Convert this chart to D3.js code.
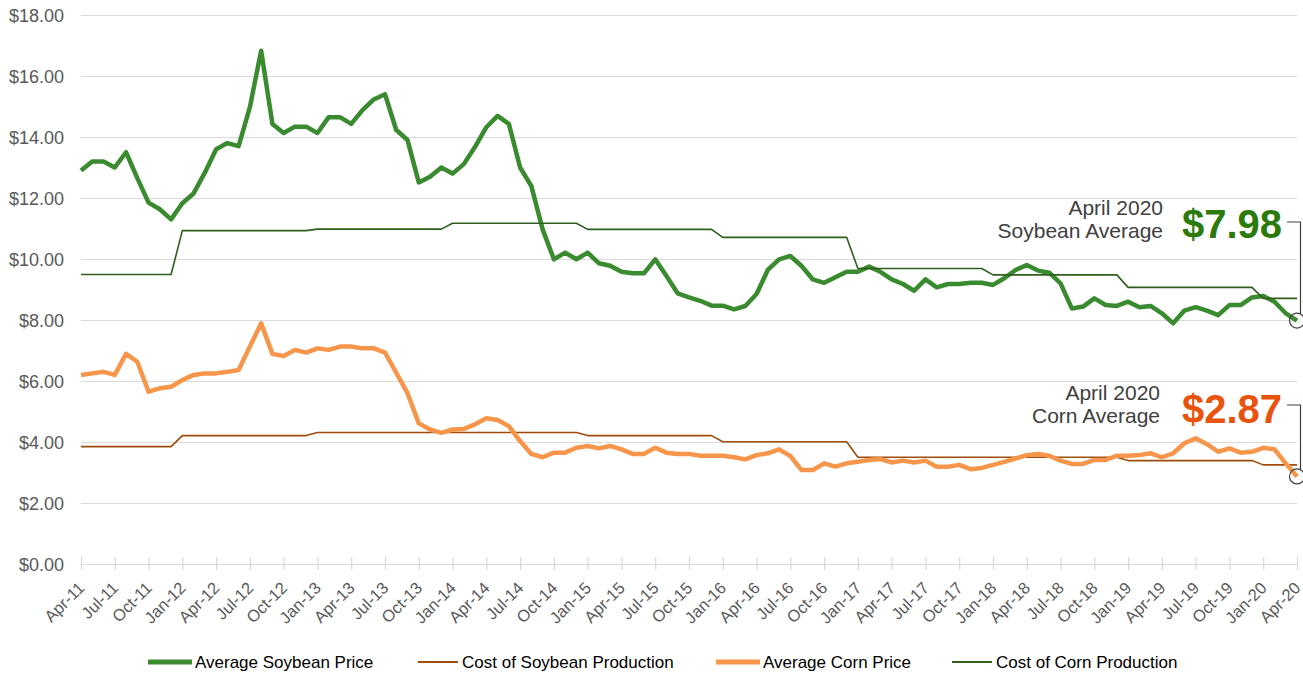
<!DOCTYPE html>
<html>
<head>
<meta charset="utf-8">
<script src="https://cdn.jsdelivr.net/npm/d3@7"></script>
<style>
  body { margin: 0; background: #fff; }
  text { font-family: "Liberation Sans", Arial, sans-serif; }
</style>
</head>
<body>
<script>
// Monthly averages, Apr-11 .. Apr-20
var soyPrice = [
  12.9, 13.2, 13.2, 13.0, 13.5, 12.65, 11.85, 11.63, 11.3,
  11.83, 12.15, 12.83, 13.6, 13.8, 13.7, 14.98, 16.83, 14.43, 14.13, 14.34, 14.34,
  14.13, 14.65, 14.65, 14.43, 14.88, 15.23, 15.4, 14.23, 13.9, 12.51, 12.7, 13.0,
  12.8, 13.11, 13.68, 14.32, 14.69, 14.43, 13.0, 12.39, 10.97, 9.99, 10.21, 9.99,
  10.21, 9.86, 9.78, 9.58, 9.53, 9.53, 9.99, 9.44, 8.87, 8.74, 8.63, 8.47,
  8.47, 8.35, 8.46, 8.85, 9.64, 9.99, 10.1, 9.77, 9.33, 9.22, 9.4, 9.58,
  9.58, 9.75, 9.58, 9.33, 9.18, 8.96, 9.33, 9.07, 9.18, 9.18, 9.22, 9.22,
  9.15, 9.37, 9.64, 9.8, 9.62, 9.55, 9.2, 8.38, 8.44, 8.71, 8.49, 8.46,
  8.6, 8.42, 8.46, 8.22, 7.89, 8.31, 8.42, 8.31, 8.16, 8.49, 8.49, 8.74,
  8.79, 8.6, 8.22, 7.98
];
var cornPrice = [
  6.2, 6.25, 6.3, 6.2, 6.89, 6.63, 5.65, 5.76, 5.81,
  6.03, 6.2, 6.25, 6.25, 6.3, 6.36, 7.13, 7.89, 6.89, 6.82, 7.02, 6.93,
  7.07, 7.02, 7.13, 7.13, 7.07, 7.07, 6.93, 6.27, 5.6, 4.61, 4.41, 4.3,
  4.41, 4.43, 4.58, 4.78, 4.72, 4.52, 4.03, 3.61, 3.5, 3.65, 3.65, 3.81,
  3.87, 3.79, 3.87, 3.76, 3.61, 3.61, 3.81, 3.65, 3.61, 3.61, 3.55, 3.55,
  3.55, 3.5, 3.43, 3.57, 3.63, 3.76, 3.54, 3.08, 3.08, 3.3, 3.19, 3.3,
  3.35, 3.41, 3.44, 3.33, 3.39, 3.33, 3.39, 3.19, 3.19, 3.25, 3.11, 3.15,
  3.25, 3.35, 3.46, 3.57, 3.61, 3.55, 3.39, 3.28, 3.28, 3.41, 3.41, 3.55,
  3.55, 3.57, 3.63, 3.5, 3.63, 3.96, 4.12, 3.93, 3.68, 3.79, 3.65, 3.68,
  3.81, 3.76, 3.3, 2.87
];

// Production cost, one value per calendar year
var costYears = [2011, 2012, 2013, 2014, 2015, 2016, 2017, 2018, 2019, 2020];
var soyCost   = [9.49, 10.93, 10.98, 11.17, 10.97, 10.71, 9.69, 9.48, 9.07, 8.71];
var cornCost  = [3.85, 4.21, 4.31, 4.31, 4.21, 4.01, 3.50, 3.50, 3.39, 3.25];

var tickLabels = ["Apr-11","Jul-11","Oct-11","Jan-12","Apr-12","Jul-12","Oct-12","Jan-13","Apr-13",
  "Jul-13","Oct-13","Jan-14","Apr-14","Jul-14","Oct-14","Jan-15","Apr-15","Jul-15","Oct-15",
  "Jan-16","Apr-16","Jul-16","Oct-16","Jan-17","Apr-17","Jul-17","Oct-17","Jan-18","Apr-18",
  "Jul-18","Oct-18","Jan-19","Apr-19","Jul-19","Oct-19","Jan-20","Apr-20"];
var yTicks = [0, 2, 4, 6, 8, 10, 12, 14, 16, 18];

var months = d3.timeMonth.range(new Date(2011, 3, 1), new Date(2020, 4, 1));
var categories = months.map(d3.timeFormat("%b-%y"));

// per-month cost series looked up from the yearly values
var soyCostM = months.map(function(m){ return soyCost[costYears.indexOf(m.getFullYear())]; });
var cornCostM = months.map(function(m){ return cornCost[costYears.indexOf(m.getFullYear())]; });

drawChart();

function drawChart(){

  var width = 1303, height = 675;
  var plotLeft = 81, plotRight = 1297, plotTop = 15, plotBottom = 564;

  var svg = d3.select("body").append("svg")
    .attr("width", width)
    .attr("height", height)
    .style("display", "block");

  var x = d3.scalePoint().domain(categories).range([plotLeft, plotRight]);
  var y = d3.scaleLinear().domain([0, 18]).range([plotBottom, plotTop]);

  // Y axis + gridlines
  var yAxis = svg.append("g")
    .attr("transform", "translate(" + plotLeft + ",0)")
    .call(d3.axisLeft(y).tickValues(yTicks).tickSize(-(plotRight - plotLeft)).tickPadding(17)
      .tickFormat(function(d){ return "$" + d.toFixed(2); }));
  yAxis.select(".domain").remove();
  yAxis.selectAll(".tick line").attr("stroke", "#d9d9d9").attr("stroke-width", 1.2);
  yAxis.selectAll(".tick text")
    .attr("fill", "#595959")
    .attr("font-size", "18px")
    .attr("font-family", "Liberation Sans, Arial, sans-serif")
    .attr("dy", "0.38em");

  // X axis
  var xAxis = svg.append("g")
    .attr("transform", "translate(0," + plotBottom + ")")
    .call(d3.axisBottom(x).tickValues(tickLabels).tickSizeInner(6).tickSizeOuter(0));
  xAxis.select(".domain").attr("stroke", "#d9d9d9").attr("stroke-width", 1.2);
  xAxis.selectAll(".tick line").attr("y1", -7).attr("stroke", "#d9d9d9").attr("stroke-width", 1.2);
  xAxis.selectAll(".tick text")
    .attr("x", 0).attr("y", 0).attr("dy", 0)
    .attr("text-anchor", "end")
    .attr("transform", "translate(4,25) rotate(-45)")
    .attr("fill", "#595959")
    .attr("font-size", "16.5px")
    .attr("font-family", "Liberation Sans, Arial, sans-serif");

  var line = d3.line()
    .x(function(d, i){ return x(categories[i]); })
    .y(function(d){ return y(d); });

  // Series, in the legend's order
  var series = [
    { name: "Average Soybean Price", values: soyPrice, color: "#3a8a2f", w: 4.5 },
    { name: "Cost of Soybean Production", values: cornCostM, color: "#9e4c0c", w: 1.6 },
    { name: "Average Corn Price", values: cornPrice, color: "#f7964a", w: 4.5 },
    { name: "Cost of Corn Production", values: soyCostM, color: "#2f5e1f", w: 1.6 }
  ];

  svg.selectAll("path.series")
    .data(series)
    .enter()
    .append("path")
    .attr("class", "series")
    .attr("d", function(d){ return line(d.values); })
    .attr("fill", "none")
    .attr("stroke", function(d){ return d.color; })
    .attr("stroke-width", function(d){ return d.w; })
    .attr("stroke-linejoin", "round");

  // Call-outs for the last month
  var last = categories[categories.length - 1];
  var callouts = [
    { label1: "April 2020", label2: "Soybean Average", big: "$7.98", color: "#2b7a0b",
      value: soyPrice[soyPrice.length - 1], textY: 238, lineY: 222, textX: 1163 },
    { label1: "April 2020", label2: "Corn Average", big: "$2.87", color: "#e8530e",
      value: cornPrice[cornPrice.length - 1], textY: 423, lineY: 405, textX: 1160 }
  ];

  callouts.forEach(function(c){
    var cx = x(last), cy = y(c.value), r = 7.5;
    svg.append("text")
      .attr("x", c.textX).attr("y", c.textY - 23)
      .attr("text-anchor", "end")
      .attr("font-size", "21px")
      .attr("fill", "#404040")
      .text(c.label1);
    svg.append("text")
      .attr("x", c.textX).attr("y", c.textY)
      .attr("text-anchor", "end")
      .attr("font-size", "21px")
      .attr("fill", "#404040")
      .text(c.label2);
    svg.append("text")
      .attr("x", 1282).attr("y", c.textY)
      .attr("text-anchor", "end")
      .attr("font-size", "40px")
      .attr("font-weight", "bold")
      .attr("fill", c.color)
      .text(c.big);
    svg.append("path")
      .attr("d", "M1287," + c.lineY + "H1300.5V" + (cy - r + 1))
      .attr("fill", "none")
      .attr("stroke", "#404040")
      .attr("stroke-width", 1.2);
    svg.append("circle")
      .attr("cx", cx).attr("cy", cy).attr("r", r)
      .attr("fill", "none")
      .attr("stroke", "#404040")
      .attr("stroke-width", 1.2);
  });

  // Legend
  var legendX = [148, 418, 716, 952];
  var legend = svg.selectAll("g.legend")
    .data(series)
    .enter()
    .append("g")
    .attr("class", "legend")
    .attr("transform", function(d, i){ return "translate(" + legendX[i] + ",662)"; });

  legend.append("line")
    .attr("x1", 0).attr("x2", function(d){ return d.w > 3 ? 44 : 40; })
    .attr("y1", 0).attr("y2", 0)
    .attr("stroke", function(d){ return d.color; })
    .attr("stroke-width", function(d){ return d.w > 3 ? 5 : 1.8; });

  legend.append("text")
    .attr("x", function(d){ return d.w > 3 ? 47 : 44; })
    .attr("y", 6)
    .attr("font-size", "17px")
    .attr("fill", "#000")
    .text(function(d){ return d.name; });
}
</script>
</body>
</html>
